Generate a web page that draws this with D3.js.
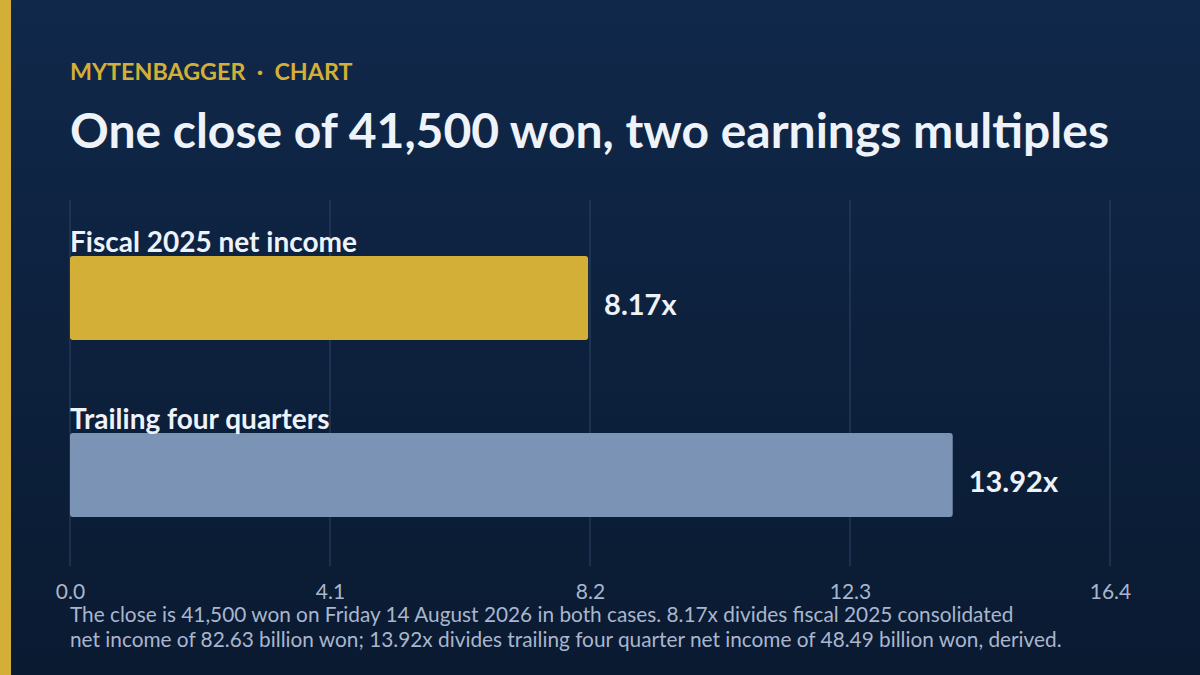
<!DOCTYPE html>
<html>
<head>
<meta charset="utf-8">
<script src="https://cdn.jsdelivr.net/npm/d3@7"></script>
<style>
  html, body { margin: 0; padding: 0; background: #0c1d38; }
  svg { display: block; }
</style>
</head>
<body>
<div id="chart"></div>
<script>
// Chart data
const categories = ["Fiscal 2025 net income", "Trailing four quarters"];
const multiples = [8.17, 13.92];
const barColors = ["#d4af37", "#7b93b5"];
const tickValues = [0, 4.1, 8.2, 12.3, 16.4];
const kicker = "MYTENBAGGER \u00b7 CHART";
const title = "One close of 41,500 won, two earnings multiples";
const footnote = [
    "The close is 41,500 won on Friday 14 August 2026 in both cases. 8.17x divides fiscal 2025 consolidated",
    "net income of 82.63 billion won; 13.92x divides trailing four quarter net income of 48.49 billion won, derived."
];

function init() {
    const w = 1200; // page width
    const h = 675; // page height
    const left = 70; // left edge of plot
    const right = 1110; // right edge of plot
    const font = "'Lato', 'Noto Sans', sans-serif";

    const svg = d3.select("#chart")
        .append("svg")
        .attr("width", w)
        .attr("height", h);

    // Background gradient
    const grad = svg.append("defs").append("linearGradient")
        .attr("id", "bg")
        .attr("x1", 0).attr("y1", 0).attr("x2", 0).attr("y2", 1);
    grad.append("stop").attr("offset", "0%").attr("stop-color", "#10284a");
    grad.append("stop").attr("offset", "100%").attr("stop-color", "#0a1a31");

    svg.append("rect")
        .attr("width", w)
        .attr("height", h)
        .attr("fill", "url(#bg)");

    // Gold stripe at the left
    svg.append("rect")
        .attr("width", 11)
        .attr("height", h)
        .attr("fill", "#d4af37");

    // Kicker and title
    svg.append("text")
        .attr("x", left)
        .attr("y", 80)
        .attr("font-family", font)
        .attr("font-size", "23.3px")
        .attr("font-weight", "bold")
        .attr("fill", "#d4af37")
        .attr("xml:space", "preserve")
        .text(kicker.replace(" \u00b7 ", "  \u00b7  "));

    svg.append("text")
        .attr("x", left)
        .attr("y", 148)
        .attr("font-family", font)
        .attr("font-size", "48px")
        .attr("font-weight", "bold")
        .attr("fill", "#eef2f9")
        .text(title);

    // Scales
    const xScale = d3.scaleLinear()
        .domain([0, d3.max(tickValues)])
        .range([left, right]);

    const yScale = d3.scaleBand()
        .domain(categories)
        .range([256, 517])
        .paddingInner(0.525)
        .paddingOuter(0);

    // Gridlines
    svg.append("g")
        .selectAll("line")
        .data(tickValues)
        .enter()
        .append("line")
        .attr("x1", d => xScale(d))
        .attr("x2", d => xScale(d))
        .attr("y1", 200)
        .attr("y2", 566)
        .attr("stroke", "#2b4468")
        .attr("stroke-width", 1);

    // Axis (labels only)
    const xAxis = d3.axisBottom(xScale)
        .tickValues(tickValues)
        .tickFormat(d3.format(".1f"))
        .tickSize(0)
        .tickPadding(0);

    const axisG = svg.append("g")
        .attr("transform", "translate(0,599)")
        .call(xAxis);
    axisG.select(".domain").remove();
    axisG.selectAll("text")
        .attr("y", 0)
        .attr("dy", 0)
        .attr("font-family", font)
        .attr("font-size", "21px")
        .attr("fill", "#a9b6cd");

    const rows = categories.map((c, i) => ({ name: c, value: multiples[i], color: barColors[i] }));

    // Bars
    svg.append("g")
        .selectAll("rect")
        .data(rows)
        .enter()
        .append("rect")
        .attr("x", xScale(0))
        .attr("y", d => yScale(d.name))
        .attr("width", d => xScale(d.value) - xScale(0))
        .attr("height", yScale.bandwidth())
        .attr("rx", 3)
        .attr("fill", d => d.color);

    // Category labels above bars
    svg.append("g")
        .selectAll("text")
        .data(rows)
        .enter()
        .append("text")
        .attr("x", xScale(0))
        .attr("y", d => yScale(d.name) - 4)
        .attr("font-family", font)
        .attr("font-size", "28px")
        .attr("font-weight", "bold")
        .attr("fill", "#eef2f9")
        .text(d => d.name);

    // Value labels
    svg.append("g")
        .selectAll("text")
        .data(rows)
        .enter()
        .append("text")
        .attr("x", d => xScale(d.value) + 16)
        .attr("y", d => yScale(d.name) + yScale.bandwidth() / 2 + 17)
        .attr("font-family", font)
        .attr("font-size", "29px")
        .attr("font-weight", "bold")
        .attr("fill", "#eef2f9")
        .text(d => d.value.toFixed(2) + "x");

    // Footnote
    svg.append("g")
        .selectAll("text")
        .data(footnote)
        .enter()
        .append("text")
        .attr("x", left)
        .attr("y", (d, i) => 622 + i * 25)
        .attr("font-family", font)
        .attr("font-size", "20.8px")
        .attr("fill", "#a9b6cd")
        .text(d => d);
}

window.onload = init;
</script>
</body>
</html>
